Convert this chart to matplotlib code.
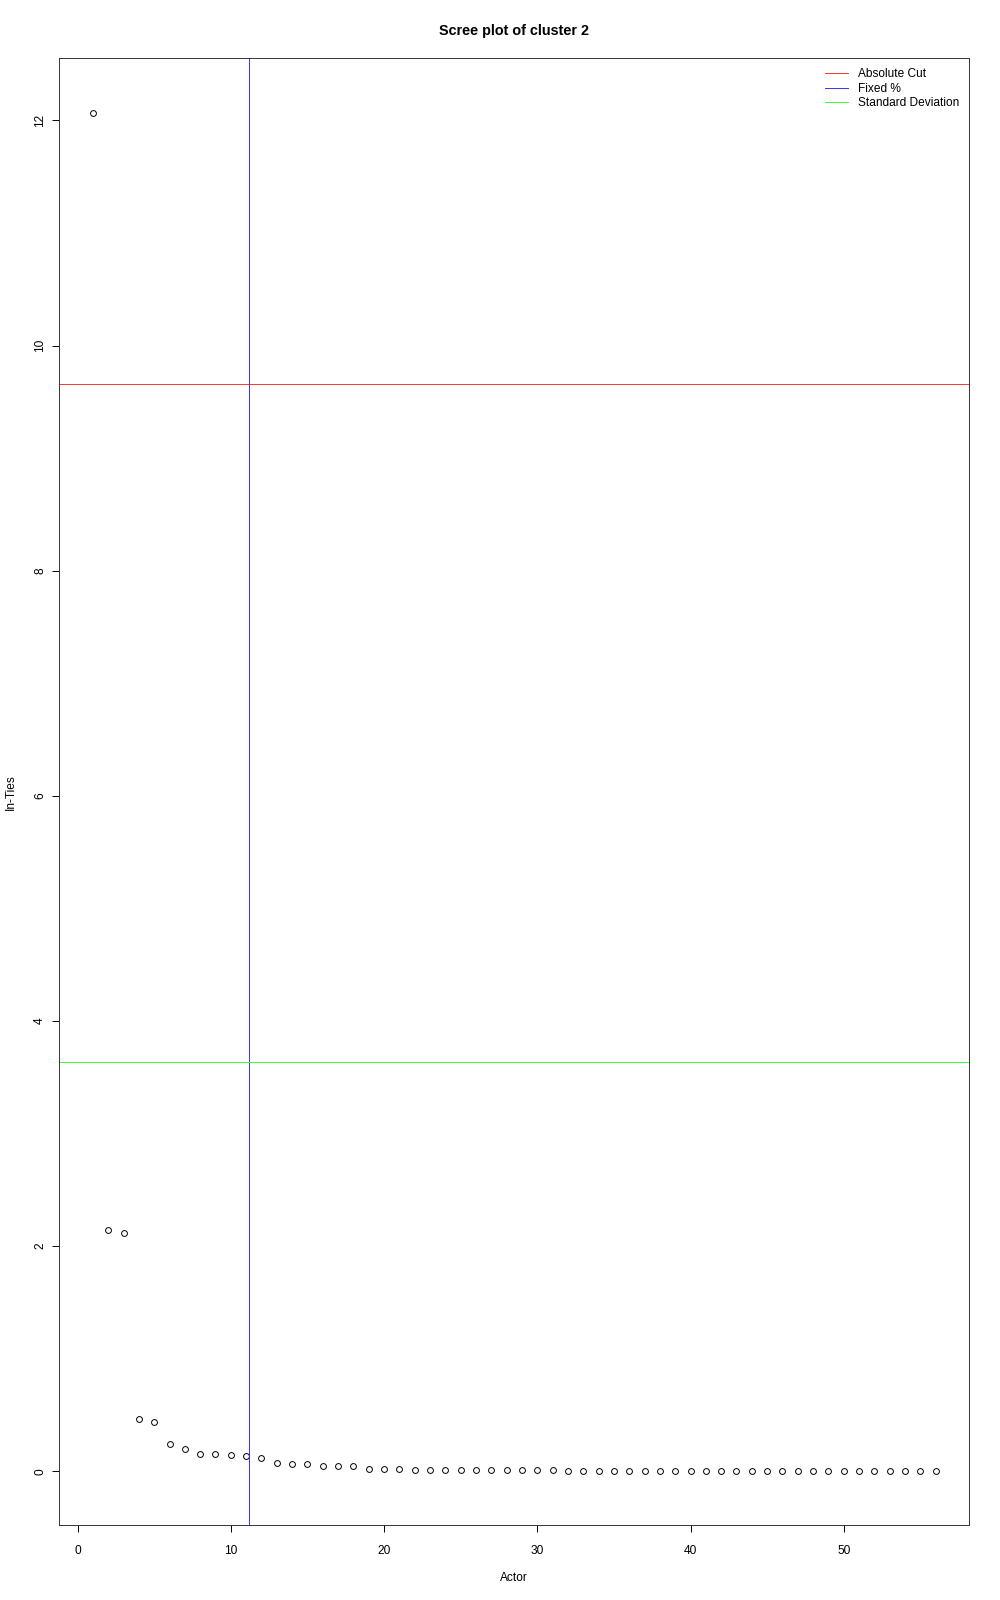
import matplotlib
matplotlib.use("Agg")
from matplotlib import pyplot as plt
import numpy as np

# in-ties per actor
actor = list(range(1, 57))
in_ties = [12.07, 2.14, 2.12, 0.466, 0.437, 0.241, 0.202, 0.158, 0.155, 0.146,
           0.135, 0.120, 0.078, 0.064, 0.064, 0.051, 0.051, 0.049, 0.025, 0.025,
           0.022, 0.015, 0.013, 0.012, 0.011, 0.010, 0.010, 0.009, 0.009, 0.008,
           0.008, 0.007, 0.007, 0.007, 0.006, 0.006, 0.006, 0.005, 0.005, 0.005,
           0.005, 0.004, 0.004, 0.004, 0.004, 0.004, 0.003, 0.003, 0.003, 0.003,
           0.003, 0.003, 0.002, 0.002, 0.002, 0.002]

# cut-off lines
absolute_cut = 9.656
fixed_pct = 11.19
std_dev = 3.632

legend_labels = ["Absolute Cut", "Fixed %", "Standard Deviation"]
x_ticks = [0, 10, 20, 30, 40, 50]
y_ticks = [0, 2, 4, 6, 8, 10, 12]

plt.rcParams['font.family'] = ['Liberation Sans', 'DejaVu Sans']

fig = plt.figure(figsize=(10, 16), dpi=100)
ax = fig.add_axes([0.0592, 0.0466, 0.9102, 0.917])

ax.plot(actor, in_ties, linestyle='none', marker='o', markersize=4.2,
        markerfacecolor='none', markeredgecolor='black', markeredgewidth=0.7)

ax.axhline(absolute_cut, color='#FF3333', lw=0.7, label=legend_labels[0])
ax.axvline(fixed_pct, color='#3333FF', lw=0.7, label=legend_labels[1])
ax.axhline(std_dev, color='#33FF33', lw=0.7, label=legend_labels[2])

# R style 4% padding
xr = max(actor) - min(actor)
ax.set_xlim(min(actor) - 0.04 * xr, max(actor) + 0.04 * xr)
yr = max(in_ties) - min(in_ties)
ax.set_ylim(min(in_ties) - 0.04 * yr, max(in_ties) + 0.04 * yr)

ax.set_xticks(x_ticks)
ax.set_yticks(y_ticks)
ax.set_yticklabels([str(t) for t in y_ticks], rotation=90, va='center')
ax.tick_params(length=5, width=0.7, labelsize=8.6)
ax.tick_params(axis='x', pad=9)
ax.tick_params(axis='y', pad=4.5)
for s in ax.spines.values():
    s.set_linewidth(0.7)
    s.set_color('#333333')

ax.set_title("Scree plot of cluster 2", fontsize=10.4, fontweight='bold', pad=17)
ax.set_xlabel("Actor", fontsize=8.6, labelpad=11)
ax.set_ylabel("In-Ties", fontsize=8.6, labelpad=12)

ax.legend(loc='upper right', frameon=False, fontsize=8.6, handlelength=1.9,
          handletextpad=0.85, labelspacing=0.2, borderaxespad=0.45,
          bbox_to_anchor=(1.0, 1.0))

fig.savefig("out.png", dpi=100)
